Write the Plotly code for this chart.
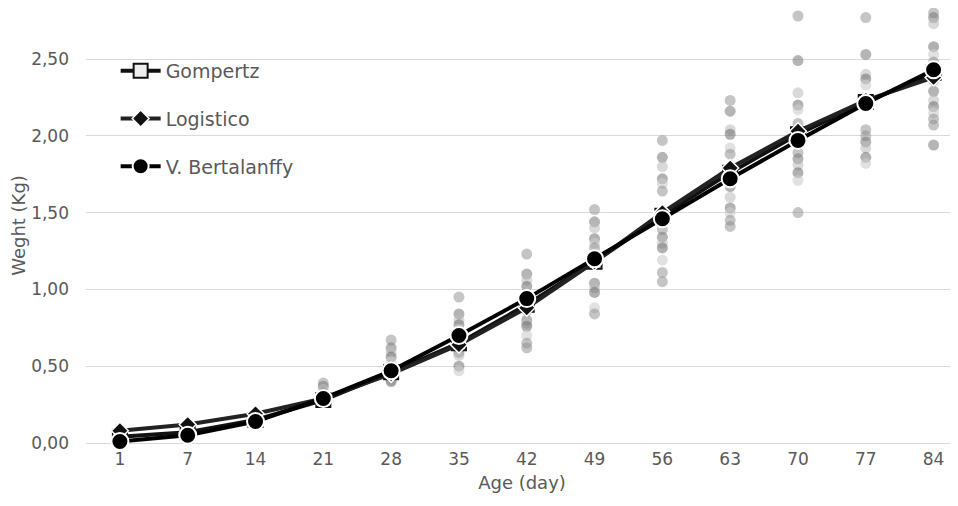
import plotly.graph_objects as go

days = ["1", "7", "14", "21", "28", "35", "42", "49", "56", "63", "70", "77", "84"]

gompertz = [0.04, 0.07, 0.15, 0.28, 0.46, 0.65, 0.90, 1.18, 1.48, 1.76, 2.01, 2.22, 2.41]
logistico = [0.08, 0.12, 0.19, 0.29, 0.45, 0.64, 0.88, 1.18, 1.50, 1.79, 2.03, 2.23, 2.38]
bertalanffy = [0.01, 0.05, 0.14, 0.29, 0.47, 0.70, 0.94, 1.20, 1.46, 1.72, 1.97, 2.21, 2.43]

observed = {
    "1": [0.04, 0.05, 0.03],
    "7": [0.10, 0.12, 0.09],
    "14": [0.16, 0.18, 0.20],
    "21": [0.39, 0.37, 0.35, 0.32, 0.30],
    "28": [0.67, 0.62, 0.59, 0.56, 0.53, 0.50, 0.47, 0.44, 0.41, 0.40],
    "35": [0.95, 0.84, 0.80, 0.77, 0.74, 0.72, 0.62, 0.59, 0.57, 0.50, 0.47],
    "42": [1.23, 1.10, 1.06, 1.02, 0.97, 0.93, 0.86, 0.80, 0.78, 0.76, 0.70, 0.65, 0.62],
    "49": [1.52, 1.44, 1.40, 1.33, 1.30, 1.27, 1.20, 1.04, 1.01, 0.98, 0.88, 0.84],
    "56": [1.97, 1.86, 1.80, 1.72, 1.69, 1.64, 1.39, 1.34, 1.30, 1.27, 1.19, 1.11, 1.05],
    "63": [2.23, 2.16, 2.04, 2.01, 1.92, 1.88, 1.80, 1.67, 1.60, 1.53, 1.50, 1.45, 1.41],
    "70": [2.78, 2.49, 2.28, 2.20, 2.17, 2.08, 1.89, 1.85, 1.81, 1.76, 1.71, 1.50],
    "77": [2.77, 2.53, 2.40, 2.37, 2.33, 2.04, 2.00, 1.96, 1.92, 1.86, 1.82],
    "84": [2.80, 2.77, 2.73, 2.58, 2.53, 2.48, 2.36, 2.29, 2.23, 2.19, 2.15, 2.11, 2.07, 1.94],
}

y_ticks = [0, 0.5, 1.0, 1.5, 2.0, 2.5]
y_tick_labels = ["0,00", "0,50", "1,00", "1,50", "2,00", "2,50"]

shades = [
    "rgba(150,150,150,0.55)",
    "rgba(120,120,120,0.55)",
    "rgba(185,185,185,0.55)",
    "rgba(100,100,100,0.5)",
    "rgba(205,205,205,0.6)",
    "rgba(140,140,140,0.5)",
]

fig = go.Figure()

ox = {s: [] for s in shades}
oy = {s: [] for s in shades}
for d in days:
    for i, v in enumerate(observed[d]):
        s = shades[i % len(shades)]
        ox[s].append(d)
        oy[s].append(v)
for s in shades:
    fig.add_trace(go.Scatter(
        x=ox[s], y=oy[s], mode="markers", showlegend=False,
        marker=dict(size=11, color=s, line=dict(width=0)),
        hoverinfo="skip", cliponaxis=False,
    ))

fig.add_trace(go.Scatter(
    x=days, y=gompertz, name="Gompertz", mode="lines+markers",
    line=dict(color="#111111", width=4),
    marker=dict(symbol="square", size=14, color="#eeeeee", line=dict(color="#111111", width=2)),
    legendgroup="g", cliponaxis=False,
))
fig.add_trace(go.Scatter(
    x=days, y=logistico, name="Logistico", mode="lines+markers",
    line=dict(color="#222222", width=4),
    marker=dict(symbol="diamond", size=13, color="#111111", line=dict(color="white", width=1.5)),
    legendgroup="l", cliponaxis=False,
))
fig.add_trace(go.Scatter(
    x=days, y=bertalanffy, name="V. Bertalanffy", mode="lines+markers",
    line=dict(color="#000000", width=4),
    marker=dict(symbol="circle", size=17, color="#000000", line=dict(color="white", width=2)),
    legendgroup="b", cliponaxis=False,
))

font_color = "#595959"
font_family = "'DejaVu Sans', sans-serif"

fig.update_layout(
    width=950, height=498,
    margin=dict(l=78, r=0, t=0, b=63),
    paper_bgcolor="white", plot_bgcolor="white",
    font=dict(family=font_family, color=font_color, size=17),
    showlegend=True,
    legend=dict(
        x=0.034, y=0.899, xanchor="left", yanchor="top",
        bgcolor="rgba(0,0,0,0)", font=dict(size=19, color=font_color),
        tracegroupgap=20, itemwidth=40,
    ),
    xaxis=dict(
        type="category", categoryorder="array", categoryarray=days,
        range=[-0.5, 12.36], showgrid=False, showline=False, ticks="",
        tickfont=dict(size=17, color=font_color), ticklabelstandoff=4,
        title=dict(text="Age (day)", font=dict(size=18, color=font_color), standoff=8),
    ),
    yaxis=dict(
        range=[0, 2.832], tickvals=y_ticks, ticktext=y_tick_labels,
        showgrid=True, gridcolor="#d9d9d9", gridwidth=1,
        zeroline=True, zerolinecolor="#d9d9d9", zerolinewidth=1,
        showline=False, ticks="",
        tickfont=dict(size=17, color=font_color), ticklabelstandoff=16,
        title=dict(text="Weght (Kg)", font=dict(size=18, color=font_color), standoff=0),
    ),
)

fig.write_html("out.html")
